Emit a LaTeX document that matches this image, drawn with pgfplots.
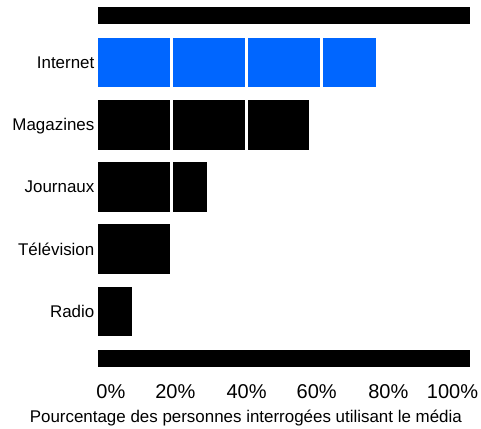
\documentclass[border=0pt]{standalone}
\usepackage{fontspec}
\setmainfont{Liberation Sans}
\usepackage{pgfplots}
\pgfplotsset{compat=1.18}
\definecolor{netblue}{RGB}{0,102,255}
\begin{document}
\begin{tikzpicture}
\path[use as bounding box] (-72.45pt,-40.875pt) rectangle (288.3pt,280.125pt);
\begin{axis}[
  at={(0pt,0pt)}, anchor=south west,
  scale only axis,
  width=281.25pt, height=279.9pt,
  xmin=0, xmax=100, ymin=0, ymax=6,
  clip=false,
  axis line style={draw=none},
  tick style={draw=none},
  ytick={1,2,3,4,5},
  yticklabels={Radio,Télévision,Journaux,Magazines,Internet},
  yticklabel style={font=\fontsize{12.7pt}{14pt}\selectfont, anchor=base east, inner sep=0pt, xshift=-1.5pt, yshift=-4.55pt},
  xtick={3.8,21,40,58.7,77.8,94.9},
  xticklabels={0\%,20\%,40\%,60\%,80\%,100\%},
  xticklabel style={font=\fontsize{15pt}{17pt}\selectfont, anchor=base, inner sep=0pt, yshift=-18.6pt},
  xlabel={Pourcentage des personnes interrogées utilisant le média},
  x label style={at={(axis description cs:0.398,-0.1326)}, anchor=base, inner sep=0pt, font=\fontsize{12.7pt}{14pt}\selectfont},
  every axis plot/.append style={xbar, bar shift=0pt, draw=white, line width=2.55pt},
]
% full lengths
\addplot[fill=netblue, bar width=39.75pt] coordinates {(75,5)};
\addplot[fill=black, bar width=39.75pt] coordinates {(57,4) (30,3) (20,2) (10,1)};
% segment boundaries at 60 %
\addplot[fill=netblue, bar width=39.75pt] coordinates {(60,5)};
% segment boundaries at 40 %
\addplot[fill=netblue, bar width=39.75pt] coordinates {(40,5)};
\addplot[fill=black, bar width=39.75pt] coordinates {(40,4)};
% segment boundaries at 20 %
\addplot[fill=netblue, bar width=39.75pt] coordinates {(20,5)};
\addplot[fill=black, bar width=39.75pt] coordinates {(20,4) (20,3)};
% frame bars (100 %)
\addplot[fill=black, bar width=15.3pt] coordinates {(100,0.24) (100,5.75)};
\end{axis}
\end{tikzpicture}
\end{document}
